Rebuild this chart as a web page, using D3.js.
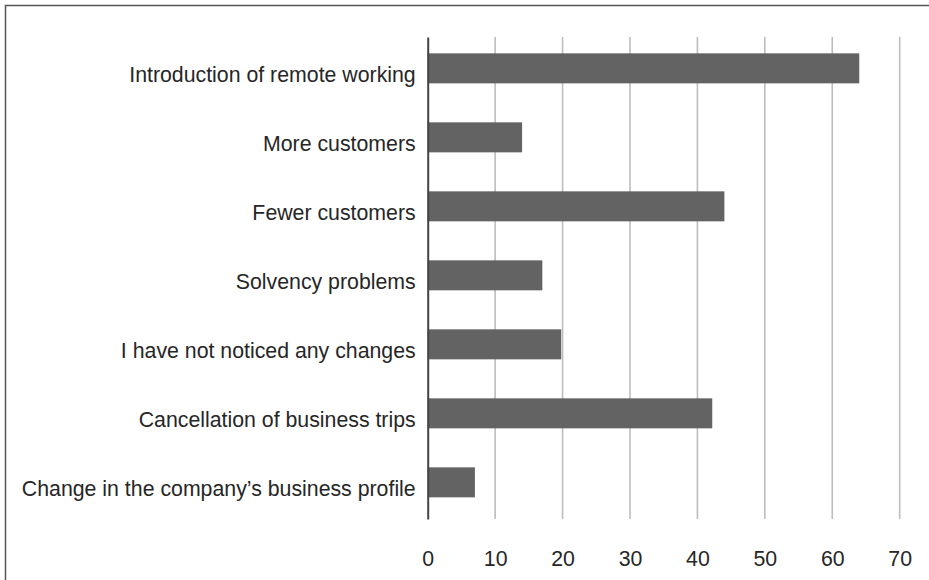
<!DOCTYPE html>
<html><head><meta charset="utf-8">
<script src="https://cdn.jsdelivr.net/npm/d3@7"></script>
<style>html,body{margin:0;padding:0;background:#fff;}svg{display:block;}</style>
</head><body>
<script>
const categories = ["Introduction of remote working","More customers","Fewer customers","Solvency problems","I have not noticed any changes","Cancellation of business trips","Change in the company\u2019s business profile"];
const values = [64, 14, 44, 17, 19.8, 42.2, 7];
const tickValues = [0,10,20,30,40,50,60,70];

const W = 929, H = 580;
const FONT = "Liberation Sans, Arial, sans-serif";
const svg = d3.select("body").append("svg").attr("width", W).attr("height", H);
svg.append("rect").attr("x",5.5).attr("y",5.5).attr("width",W+20).attr("height",H+20)
  .attr("fill","none").attr("stroke","#555").attr("stroke-width",1.5);

const x = d3.scaleLinear().domain([0,70]).range([427.7, 899.7]);
const y = d3.scaleBand().domain(categories).range([37, 519])
  .paddingInner(0.5652).paddingOuter(0.2754).align(0.43);

// gridlines
svg.append("g").selectAll("line").data(tickValues.slice(1)).join("line")
  .attr("x1", d=>x(d)).attr("x2", d=>x(d)).attr("y1",37).attr("y2",519)
  .attr("stroke","#bdbdbd").attr("stroke-width",1.6);

// bars
svg.append("g").selectAll("rect").data(values).join("rect")
  .attr("x", x(0)).attr("y",(d,i)=>y(categories[i]))
  .attr("width", d=>x(d)-x(0)).attr("height", y.bandwidth())
  .attr("fill","#636364");

// y axis
const yAxis = d3.axisLeft(y).tickSize(0).tickPadding(12);
const gy = svg.append("g").attr("transform",`translate(${x(0)},0)`).call(yAxis);
gy.select(".domain").attr("stroke","#444").attr("stroke-width",2);
gy.selectAll("text").attr("font-family",FONT).attr("font-size",21.3).attr("fill","#262626")
  .attr("dy", null).attr("y", y.bandwidth()/2 - 1);

// x axis
const xAxis = d3.axisBottom(x).tickValues(tickValues).tickSize(0).tickPadding(0);
const gx = svg.append("g").attr("transform",`translate(0,551)`).call(xAxis);
gx.select(".domain").remove();
gx.selectAll("text").attr("font-family",FONT).attr("font-size",21.3).attr("fill","#262626");
</script>
</body></html>
